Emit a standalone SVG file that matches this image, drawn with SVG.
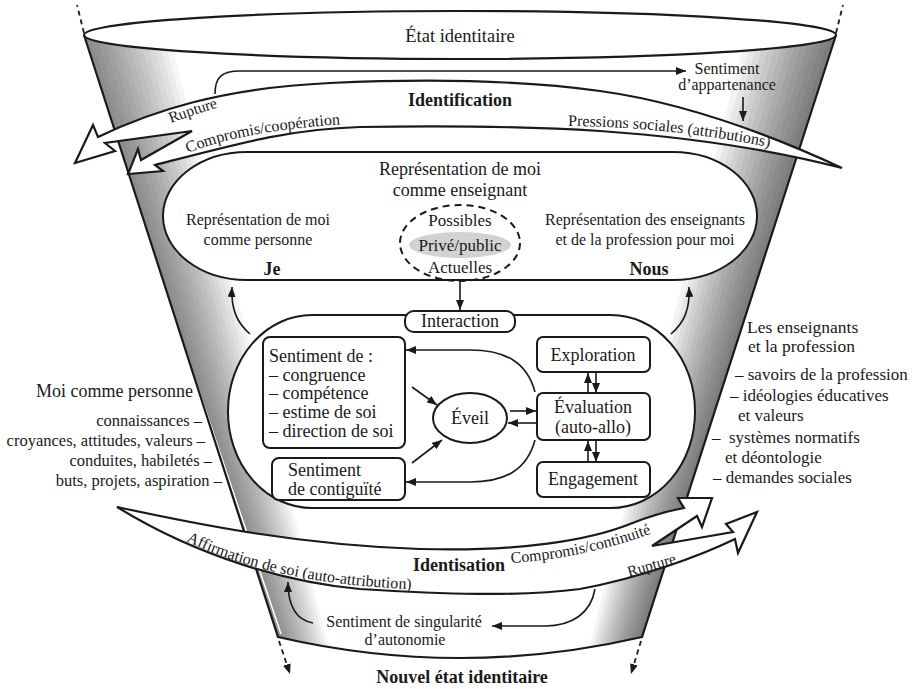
<svg xmlns="http://www.w3.org/2000/svg" width="914" height="689" viewBox="0 0 914 689">
<defs>
<style>
.t{font-family:"Liberation Serif","Times New Roman",serif;fill:#1a1a1a}
.m{text-anchor:middle}
.e{text-anchor:end}
.b{font-weight:bold}
.box{fill:#fff;stroke:#1a1a1a;stroke-width:2}
.band{fill:#fff;stroke:#1a1a1a;stroke-width:2.2;stroke-linejoin:miter}
.c{fill:none;stroke:#1a1a1a;stroke-width:1.6;marker-end:url(#arr)}
.d{fill:none;stroke:#1a1a1a;stroke-width:1.8;stroke-dasharray:5 4}
.gl{fill:#000;opacity:0.04}
.gr{fill:#000;opacity:0.048}
</style>
<marker id="arr" viewBox="0 0 10 8" refX="10" refY="4" markerWidth="10" markerHeight="8" markerUnits="userSpaceOnUse" orient="auto"><path d="M0,0 L10,4 L0,8 Z" fill="#1a1a1a"/></marker>
<clipPath id="funnelClip"><path d="M84,35 L278,637 Q460,679 642,637 L836,35 Z"/></clipPath>
<path id="tpRup1" d="M171,123 Q198,113 233,103"/>
<path id="tpComp1" d="M188,153 Q247,129 362,123"/>
<path id="tpPress" d="M568,126 Q675,127 778,149"/>
<path id="tpAff" d="M186,541 C250,572 330,588 440,590"/>
<path id="tpComp2" d="M511,563 Q590,558 666,528"/>
<path id="tpRup2" d="M629,577 L691,559"/>
</defs>

<g id="funnel">
<path d="M84,35 L278,637 Q460,679 642,637 L836,35 Z" fill="#fff"/>
<g clip-path="url(#funnelClip)">
<polygon class="gl" points="60,35 250,660 288.7,660 90.1,35"/>
<polygon class="gl" points="60,35 250,660 292.1,660 96.1,35"/>
<polygon class="gl" points="60,35 250,660 295.4,660 102.2,35"/>
<polygon class="gl" points="60,35 250,660 298.7,660 108.3,35"/>
<polygon class="gl" points="60,35 250,660 302.0,660 114.4,35"/>
<polygon class="gl" points="60,35 250,660 305.4,660 120.4,35"/>
<polygon class="gl" points="60,35 250,660 308.7,660 126.5,35"/>
<polygon class="gl" points="60,35 250,660 312.0,660 132.6,35"/>
<polygon class="gl" points="60,35 250,660 315.4,660 138.6,35"/>
<polygon class="gl" points="60,35 250,660 318.7,660 144.7,35"/>
<polygon class="gl" points="60,35 250,660 322.0,660 150.8,35"/>
<polygon class="gl" points="60,35 250,660 325.3,660 156.9,35"/>
<polygon class="gl" points="60,35 250,660 328.7,660 162.9,35"/>
<polygon class="gl" points="60,35 250,660 332.0,660 169.0,35"/>
<polygon class="gr" points="860,35 670,660 631.1,660 829.6,35"/>
<polygon class="gr" points="860,35 670,660 627.7,660 823.1,35"/>
<polygon class="gr" points="860,35 670,660 624.2,660 816.7,35"/>
<polygon class="gr" points="860,35 670,660 620.7,660 810.3,35"/>
<polygon class="gr" points="860,35 670,660 617.3,660 803.9,35"/>
<polygon class="gr" points="860,35 670,660 613.8,660 797.4,35"/>
<polygon class="gr" points="860,35 670,660 610.4,660 791.0,35"/>
<polygon class="gr" points="860,35 670,660 606.9,660 784.6,35"/>
<polygon class="gr" points="860,35 670,660 603.4,660 778.1,35"/>
<polygon class="gr" points="860,35 670,660 600.0,660 771.7,35"/>
<polygon class="gr" points="860,35 670,660 596.5,660 765.3,35"/>
<polygon class="gr" points="860,35 670,660 593.0,660 758.9,35"/>
<polygon class="gr" points="860,35 670,660 589.6,660 752.4,35"/>
<polygon class="gr" points="860,35 670,660 586.1,660 746.0,35"/>
</g>
<line x1="87" y1="58" x2="281" y2="634" stroke="#fff" stroke-width="1.5"/>
<path d="M84,35 L278,637 Q460,679 642,637 L836,35" fill="none" stroke="#1a1a1a" stroke-width="2.2" stroke-linejoin="miter"/>
<path class="d" d="M84,33 L77,5"/>
<path class="d" d="M836,33 L843,5"/>
</g>

<g id="etat-identitaire">
<ellipse cx="460" cy="35" rx="376" ry="24" fill="#fff" stroke="#1a1a1a" stroke-width="2.2"/>
<text class="t m" x="460" y="42" font-size="18.5">État identitaire</text>
</g>

<g id="identification">
<path class="band" d="M98,137 C150,112 220,88 330,83 C420,79 520,80 600,91 C680,102 760,130 842,168 C780,152 700,138 600,131 C520,126 420,126 360,127 C290,129 240,143 155,165 L163,171 L128,174 L138,149 L141,160 L192,131 L105,143 L115,151 L75,163 L93,125 Z"/>
<text class="t m b" x="460" y="106" font-size="18">Identification</text>
<text class="t" font-size="15.5"><textPath href="#tpRup1">Rupture</textPath></text>
<text class="t" font-size="16"><textPath href="#tpComp1">Compromis/coopération</textPath></text>
<text class="t" font-size="16"><textPath href="#tpPress">Pressions sociales (attributions)</textPath></text>
</g>

<g id="appartenance">
<text class="t m" x="727" y="74" font-size="16">Sentiment</text>
<text class="t m" x="727" y="90" font-size="16">d’appartenance</text>
</g>

<g id="representation">
<rect class="box" x="163" y="152" width="594" height="128" rx="84" ry="64" stroke-width="2.2"/>
<text class="t m" x="460" y="175" font-size="18">Représentation de moi</text>
<text class="t m" x="460" y="196" font-size="18">comme enseignant</text>
<text class="t m" x="258" y="225" font-size="16">Représentation de moi</text>
<text class="t m" x="258" y="245" font-size="16">comme personne</text>
<text class="t m b" x="272" y="275" font-size="18">Je</text>
<text class="t m" x="645" y="225" font-size="16">Représentation des enseignants</text>
<text class="t m" x="645" y="245" font-size="16">et de la profession pour moi</text>
<text class="t m b" x="649" y="275" font-size="18">Nous</text>
</g>

<g id="possibles">
<ellipse cx="460" cy="243" rx="60" ry="38" fill="none" stroke="#1a1a1a" stroke-width="2" stroke-dasharray="7 5"/>
<ellipse cx="460" cy="245" rx="51" ry="13" fill="#d2d2d2"/>
<text class="t m" x="460" y="226" font-size="17">Possibles</text>
<text class="t m" x="460" y="251" font-size="17">Privé/public</text>
<text class="t m" x="460" y="273" font-size="17">Actuelles</text>
</g>

<g id="interaction-zone">
<rect class="box" x="228" y="315" width="467" height="193" rx="84" ry="96" stroke-width="2.2"/>
</g>

<g id="interaction">
<rect class="box" x="405" y="311" width="110" height="21" rx="9"/>
<text class="t m" x="460" y="327" font-size="18">Interaction</text>
</g>

<g id="sentiment-de">
<rect class="box" x="263" y="337" width="142" height="111" rx="7"/>
<text class="t" x="269" y="362" font-size="18">Sentiment de :</text>
<text class="t" x="269" y="381" font-size="18">– congruence</text>
<text class="t" x="269" y="399" font-size="18">– compétence</text>
<text class="t" x="269" y="418" font-size="18">– estime de soi</text>
<text class="t" x="269" y="437" font-size="18">– direction de soi</text>
</g>

<g id="contiguite">
<rect class="box" x="272" y="458" width="133" height="42" rx="7"/>
<text class="t" x="288" y="476" font-size="18">Sentiment</text>
<text class="t" x="288" y="495" font-size="18">de contiguïté</text>
</g>

<g id="eveil">
<ellipse cx="470" cy="418" rx="37" ry="25" fill="#fff" stroke="#1a1a1a" stroke-width="2"/>
<text class="t m" x="470" y="424" font-size="18">Éveil</text>
</g>

<g id="exploration">
<rect class="box" x="537" y="337" width="113" height="35" rx="6"/>
<text class="t m" x="593" y="361" font-size="18">Exploration</text>
</g>

<g id="evaluation">
<rect class="box" x="537" y="393" width="113" height="47" rx="6"/>
<text class="t m" x="593" y="413" font-size="18">Évaluation</text>
<text class="t m" x="593" y="433" font-size="18">(auto-allo)</text>
</g>

<g id="engagement">
<rect class="box" x="537" y="462" width="113" height="35" rx="6"/>
<text class="t m" x="593" y="485" font-size="18">Engagement</text>
</g>

<g id="identisation">
<path class="band" d="M117,507 C200,525 300,545 420,549 C520,552 590,540 630,524 C650,516 668,511 684,508 L678,498 L712,498 L702,527 L697,516 L652,546 L733,532 L726,524 L757,512 L738,553 L735,539 C700,556 640,578 580,589 C520,597 440,594 360,589 C290,583 200,558 117,507 Z"/>
<text class="t m b" x="459" y="571" font-size="18">Identisation</text>
<text class="t" font-size="16"><textPath href="#tpAff">Affirmation de soi (auto-attribution)</textPath></text>
<text class="t" font-size="16"><textPath href="#tpComp2">Compromis/continuité</textPath></text>
<text class="t" font-size="15.5"><textPath href="#tpRup2">Rupture</textPath></text>
</g>

<g id="singularite">
<text class="t m" x="404" y="627" font-size="16">Sentiment de singularité</text>
<text class="t m" x="405" y="645" font-size="16">d’autonomie</text>
</g>

<g id="nouvel-etat">
<text class="t m b" x="462" y="683" font-size="18">Nouvel état identitaire</text>
</g>

<g id="moi-personne">
<text class="t e" x="193" y="397" font-size="18">Moi comme personne</text>
<text class="t e" x="202" y="426" font-size="16.5">connaissances –</text>
<text class="t e" x="205" y="446" font-size="16.5">croyances, attitudes, valeurs –</text>
<text class="t e" x="212" y="466" font-size="16.5">conduites, habiletés –</text>
<text class="t e" x="222" y="486" font-size="16.5">buts, projets, aspiration –</text>
</g>

<g id="enseignants-profession">
<text class="t" x="747" y="333" font-size="17.5">Les enseignants</text>
<text class="t" x="748" y="352" font-size="17.5">et la profession</text>
<text class="t" x="735" y="380" font-size="17">– savoirs de la profession</text>
<text class="t" x="730" y="401" font-size="17">– idéologies éducatives</text>
<text class="t" x="738" y="421" font-size="17">et valeurs</text>
<text class="t" x="712" y="443" font-size="17">–&#160; systèmes normatifs</text>
<text class="t" x="725" y="463" font-size="17">et déontologie</text>
<text class="t" x="713" y="483" font-size="17">– demandes sociales</text>
</g>

<g id="connectors">
<path class="c" d="M215,94 C215,77 222,71 240,71 L686,71"/>
<path class="c" d="M743,97 L743,121"/>
<path class="c" d="M460,282 L460,310"/>
<path class="c" d="M250,334 C236,322 231,308 232,287"/>
<path class="c" d="M671,334 C685,322 690,308 689,287"/>
<path class="c" d="M412,387 L437,405"/>
<path class="c" d="M412,463 L442,440"/>
<path class="c" d="M535,392 C527,362 505,350 470,350 L406,350"/>
<path class="c" d="M535,440 C527,470 505,482 470,482 L406,482"/>
<path class="c" d="M510,411 L536,411"/>
<path class="c" d="M536,423 L508,423"/>
<path class="c" d="M588,393 L588,373"/>
<path class="c" d="M596,373 L596,393"/>
<path class="c" d="M588,462 L588,441"/>
<path class="c" d="M596,441 L596,462"/>
<path class="c" d="M313,623 C296,620 288,606 288,582"/>
<path class="c" d="M595,589 C591,613 572,626 545,626 L492,626"/>
<path class="d" d="M279,641 L290,674" marker-end="url(#arr)"/>
<path class="d" d="M641,641 L631,674" marker-end="url(#arr)"/>
</g>
</svg>
